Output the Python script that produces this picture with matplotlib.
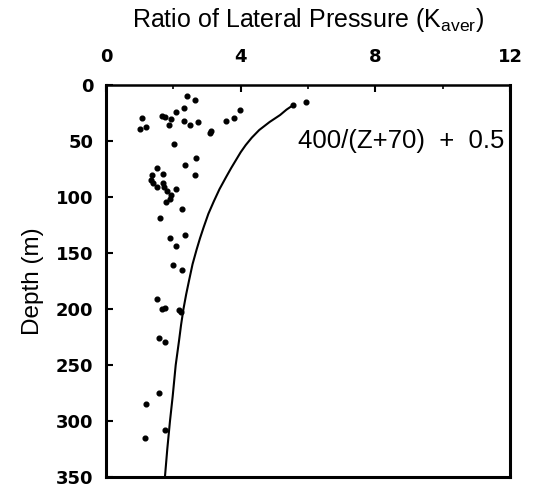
import matplotlib
matplotlib.use("Agg")
import matplotlib.pyplot as plt

plt.rcParams['font.family'] = ['Liberation Sans', 'DejaVu Sans']

# measured K_aver values and their depths (m)
k_vals = [2.41, 2.64, 1.06, 1.00, 1.19, 1.66, 1.75, 1.94, 1.88, 2.09, 2.32, 2.31,
          2.49, 2.73, 3.13, 3.10, 3.57, 3.80, 3.98, 5.56, 5.94, 2.03, 2.68, 2.36,
          2.63, 1.52, 1.70, 1.36, 1.33, 1.39, 1.51, 1.68, 1.72, 1.80, 2.08, 1.93,
          1.90, 1.78, 2.27, 1.61, 2.36, 1.89, 2.08, 1.98, 2.26, 1.51, 1.67, 1.74,
          2.17, 2.22, 1.56, 1.75, 1.56, 1.19, 1.75, 1.15]
depths = [9.6, 13.7, 29.2, 39.3, 37.5, 27.4, 28.6, 30.6, 36.0, 23.8, 20.8, 31.9,
          36.0, 33.3, 40.8, 43.1, 31.9, 29.2, 22.0, 17.6, 15.2, 52.7, 65.5, 71.1,
          80.7, 73.8, 79.5, 80.4, 84.8, 87.8, 91.3, 87.8, 91.3, 94.3, 93.1, 98.2,
          101.5, 104.5, 110.4, 118.5, 133.9, 136.9, 143.8, 160.4, 164.9, 191.3, 199.7, 198.8,
          200.9, 202.4, 225.6, 229.2, 274.7, 284.6, 308.0, 315.2]

# fitted curve as drawn
curve_z = [17.9, 22, 26.8, 33, 40.2, 47, 53.6, 60, 67, 74, 82, 93, 104,
           115, 127, 137, 147, 160, 174, 187, 200, 214, 228, 250, 278, 300, 325, 350]
curve_k = [5.56, 5.36, 5.17, 4.86, 4.55, 4.33, 4.15, 4.00, 3.86, 3.72, 3.57, 3.37, 3.20,
           3.04, 2.90, 2.79, 2.69, 2.57, 2.47, 2.38, 2.30, 2.23, 2.17, 2.07, 1.98, 1.90, 1.82, 1.75]

fig = plt.figure(figsize=(5.58, 4.90), dpi=100)
ax = fig.add_axes([0.19, 0.0265, 0.724, 0.80])

ax.plot(k_vals, depths, 'o', color='black', markersize=3.4)
ax.plot(curve_k, curve_z, color='black', linewidth=1.5)

ax.set_xlim(0, 12)
ax.set_ylim(350, 0)
ax.xaxis.tick_top()
ax.xaxis.set_label_position('top')
ax.set_xticks([0, 4, 8, 12])
ax.set_xticks([2, 6, 10], minor=True)
ax.set_yticks(range(0, 351, 50))

ax.tick_params(axis='both', which='major', direction='in', length=5, width=1.5)
ax.tick_params(axis='x', which='minor', direction='in', length=3, width=1.2)
ax.tick_params(axis='x', pad=14)
ax.tick_params(axis='y', pad=9)
for lbl in ax.get_xticklabels() + ax.get_yticklabels():
    lbl.set_family(['DejaVu Sans'])
    lbl.set_fontweight('bold')
    lbl.set_fontsize(13)

for s in ax.spines.values():
    s.set_linewidth(2.2)
ax.spines['top'].set_linewidth(1.8)

ax.set_xlabel('Ratio of Lateral Pressure (K$_{\\mathregular{aver}}$)', fontsize=18, labelpad=15)
ax.set_ylabel('Depth (m)', fontsize=17.5, labelpad=9)

ax.text(5.7, 56, '400/(Z+70)  +  0.5', fontsize=18.5)

fig.savefig('out.png', dpi=100)
